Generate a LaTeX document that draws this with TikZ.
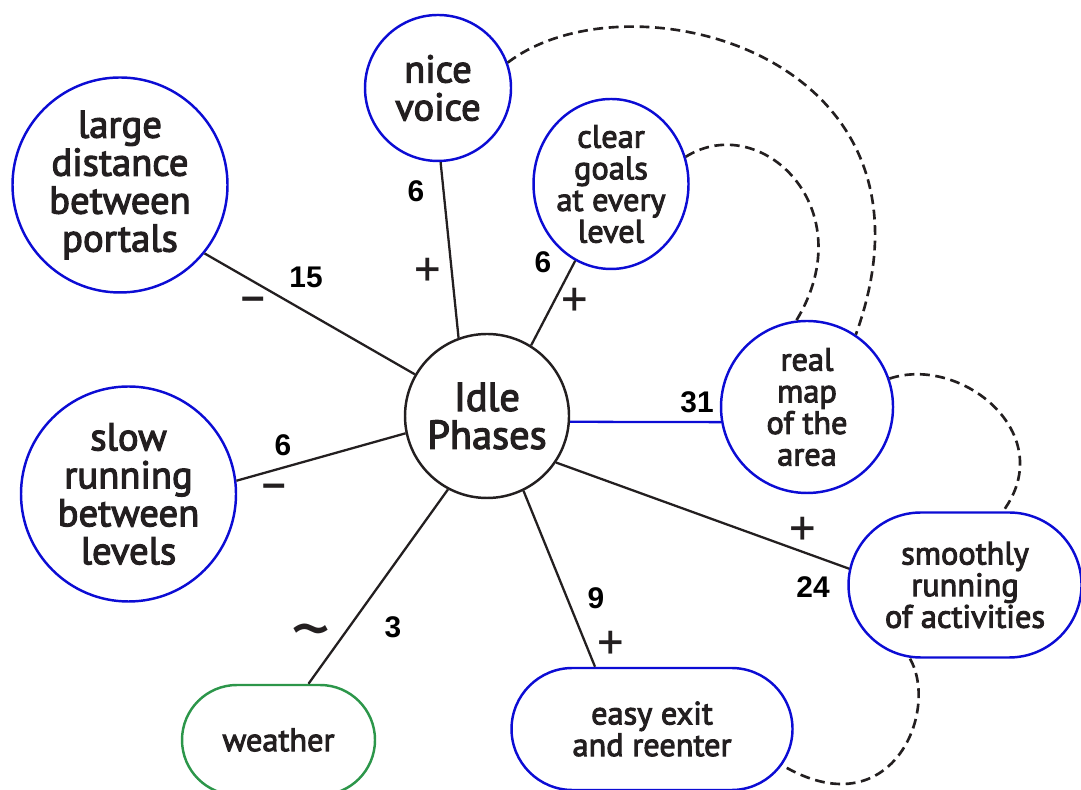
\documentclass[tikz,border=0pt]{standalone}
\usepackage{fontspec}
\setmainfont{PT Sans}
\newfontfamily\labelfont{PT Sans}[FakeBold=3]
\newfontfamily\weightfont{Liberation Sans}
\usetikzlibrary{arrows,positioning,shapes.geometric,shapes.misc}
\definecolor{inkgray}{RGB}{35,31,32}
\definecolor{factorblue}{RGB}{12,12,212}
\definecolor{factorgreen}{RGB}{44,150,74}
\tikzset{
    %Define style for the central circle
    core/.style={
           circle,
           draw=inkgray, line width=0.7pt,
           inner sep=0pt,
           minimum size=1.64cm,
           align=center,
           text=inkgray,
           font=\labelfont\fontsize{11.5}{10.8}\selectfont},
    %Define style for the factor circles
    factor/.style={
           circle,
           draw=factorblue, line width=0.7pt,
           inner sep=0pt,
           align=center,
           text=inkgray,
           font=\labelfont\fontsize{11}{10.8}\selectfont},
    small/.style={font=\labelfont\fontsize{9.2}{9}\selectfont},
    %Define style for the rounded boxes
    pill/.style={
           rounded rectangle,
           draw=factorblue, line width=0.7pt,
           inner sep=0pt,
           align=center,
           text=inkgray,
           font=\labelfont\fontsize{9.2}{9}\selectfont},
    % Define style for weights and signs
    weight/.style={font=\weightfont\bfseries\fontsize{8.5}{8.5}\selectfont, text=black},
    sign/.style={font=\fontsize{15}{15}\selectfont, text=inkgray, inner sep=0pt},
    minus/.style={font=\weightfont\bfseries\fontsize{12}{12}\selectfont, text=inkgray, inner sep=0pt},
    % Define line styles
    tie/.style={draw=inkgray, line width=0.65pt},
    loop/.style={draw=inkgray, line width=0.75pt, dash pattern=on 2.8pt off 1.6pt}
}
\begin{document}
\begin{tikzpicture}
\useasboundingbox (0,0) rectangle (10.81,7.89);
\node[core] (idle) at (4.87,3.73) {Idle\\Phases};
\node[factor, minimum size=1.46cm] (voice) at (4.38,7.01) {nice\\voice};
\node[factor, minimum size=2.15cm] (portals) at (1.20,6.04) {large\\distance\\between\\portals};
\node[factor, small, ellipse, minimum width=1.55cm, minimum height=1.70cm] (goals) at (6.11,6.05) {clear\\goals\\at every\\level};
\node[factor, small, minimum size=1.72cm] (map) at (8.07,3.82) {real\\map\\of the\\area};
\node[factor, minimum size=2.15cm] (slow) at (1.285,2.95) {slow\\running\\between\\levels};
\node[pill, minimum width=2.33cm, minimum height=1.45cm] (smooth) at (9.65,2.04) {smoothly\\running\\of activities};
\node[pill, minimum width=2.81cm, minimum height=1.22cm] (exit) at (6.52,0.60) {easy exit\\and reenter};
\node[pill, draw=factorgreen, minimum width=1.93cm, minimum height=1.10cm] (weather) at (2.785,0.49) {weather};

% links from the centre
\path[tie]
    (idle.150) edge (portals.-39)
    (idle.192) edge (slow.7)
    (idle.110) edge (voice.-88)
    (idle.58) edge (goals.-115)
    (idle.-34) edge (smooth.172)
    (idle.-64) edge ([xshift=-0.57cm]exit.north)
    (idle.-118) edge ([xshift=0.30cm]weather.north);
\draw[tie, draw=factorblue] (idle.-4) -- (map.190);

% feedback loops
\draw[loop] (voice.20) .. controls +(1.20,0.92) and +(1.02,2.82) .. (map.56);
\draw[loop] (goals.20) .. controls +(0.75,0.47) and +(0.68,1.12) .. (map.97);
\draw[loop] (map.19) .. controls +(0.72,0.24) and +(0.57,0.77) .. ([xshift=0.38cm]smooth.north);
\draw[loop] ([xshift=-0.55cm]smooth.south) .. controls +(0.30,-0.53) and +(1.09,-0.65) .. ([shift={(-0.12,-0.36)}]exit.east);

% weights
\node[weight] (w1) at (3.06,5.12) {15};
\node[weight] (w2) at (2.83,3.44) {6};
\node[weight] (w3) at (4.16,5.98) {6};
\node[weight] (w4) at (5.43,5.27) {6};
\node[weight] (w5) at (6.97,3.87) {31};
\node[weight] (w6) at (8.13,2.02) {24};
\node[weight] (w7) at (5.96,1.91) {9};
\node[weight] (w8) at (3.93,1.62) {3};

% signs
\node[minus] (s1) at (2.53,4.85) {–};
\node[minus] (s2) at (2.74,2.98) {–};
\node[sign] (s3) at (4.28,5.16) {+};
\node[sign] (s4) at (5.75,4.86) {+};
\node[sign] (s5) at (8.03,2.57) {+};
\node[sign] (s6) at (6.11,1.43) {+};
\node[sign, font=\fontsize{22}{22}\selectfont] (s7) at (3.11,1.49) {\textasciitilde};
\end{tikzpicture}
\end{document}
